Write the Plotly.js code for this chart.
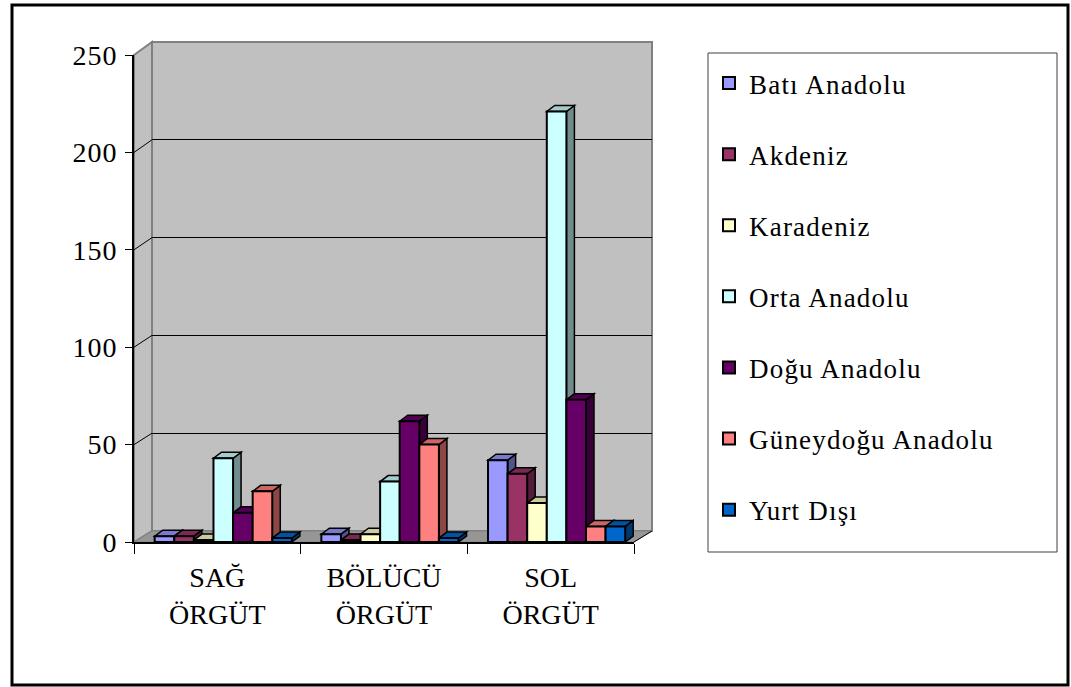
<!DOCTYPE html>
<html><head><meta charset="utf-8">
<script src="https://cdn.plot.ly/plotly-3.0.1.min.js"></script>
<style>html,body{margin:0;padding:0;background:#fff}#chart{width:1071px;height:687px}.legendtext{letter-spacing:1.2px}.y2tick text{letter-spacing:1px}</style>
</head><body><div id="chart"></div>
<script>
// ---- data ----
const categories = ['SAĞ<br>ÖRGÜT', 'BÖLÜCÜ<br>ÖRGÜT', 'SOL<br>ÖRGÜT'];
const seriesNames = ['Batı Anadolu', 'Akdeniz', 'Karadeniz', 'Orta Anadolu', 'Doğu Anadolu', 'Güneydoğu Anadolu', 'Yurt Dışı'];
const batiAnadolu = [3, 4, 42];
const akdeniz = [3, 1, 35];
const karadeniz = [1, 4, 20];
const ortaAnadolu = [43, 31, 221];
const doguAnadolu = [15, 62, 73];
const guneydoguAnadolu = [26, 50, 8];
const yurtDisi = [2, 2, 8];
const yTicks = [0, 50, 100, 150, 200, 250];
const seriesValues = [batiAnadolu, akdeniz, karadeniz, ortaAnadolu, doguAnadolu, guneydoguAnadolu, yurtDisi];
const seriesColors = ['#9999FF', '#993366', '#FFFFCC', '#CCFFFF', '#660066', '#FF8080', '#0066CC'];

// ---- geometry (pixels) ----
const W = 1071, H = 687;
const L = 134, T = 42, R = 652, B = 542;
const plotW = R - L, plotH = B - T;
const frontRight = 634, frontTop = 55;
const backLeft = 152, backBottom = 531;
const fx = px => (px - L) / plotW;
const fy = py => (B - py) / plotH;
const yMax = 250;
const frontPxPerUnitY = (B - frontTop) / yMax;
const backPxPerUnitY = (backBottom - T) / yMax;
const pxPerCat = (frontRight - L) / 3;
const barW = 19.6 / pxPerCat;
const groupStart = -0.376;
const depthX = 8 / pxPerCat;
const depthY = 6 / frontPxPerUnitY;
const FONT = 'Liberation Serif, Times New Roman, serif';

function shade(hex, f) {
  const n = parseInt(hex.slice(1), 16);
  const r = Math.round(((n >> 16) & 255) * f), g = Math.round(((n >> 8) & 255) * f), b = Math.round((n & 255) * f);
  return 'rgb(' + r + ',' + g + ',' + b + ')';
}

const traces = [{type: 'scatter', x: [], y: [], xaxis: 'x', yaxis: 'y', showlegend: false, hoverinfo: 'skip'}];
seriesValues.forEach((vals, i) => {
  traces.push({
    type: 'bar', name: seriesNames[i], x: categories, y: vals,
    xaxis: 'x2', yaxis: 'y2', offset: groupStart + i * barW, width: barW,
    marker: {color: seriesColors[i], line: {color: '#000', width: 2}},
    legendgroup: 'g' + i, hoverinfo: 'skip'
  });
});

const shapes = [];
const P = (pts) => 'M' + pts.map(p => fx(p[0]) + ',' + fy(p[1])).join(' L') + ' Z';
// outer frame
shapes.push({type: 'rect', xref: 'paper', yref: 'paper', x0: fx(12), x1: fx(1068), y0: fy(685), y1: fy(5), line: {color: '#000', width: 3}, layer: 'below'});
// back wall
shapes.push({type: 'rect', xref: 'paper', yref: 'paper', x0: fx(backLeft), x1: fx(R), y0: fy(backBottom), y1: fy(T), fillcolor: '#c0c0c0', line: {color: '#808080', width: 2}, layer: 'below'});
// left wall
shapes.push({type: 'path', xref: 'paper', yref: 'paper', path: P([[L, frontTop], [backLeft, T], [backLeft, backBottom], [L, B]]), fillcolor: '#c0c0c0', line: {color: '#808080', width: 2}, layer: 'below'});
// floor
shapes.push({type: 'path', xref: 'paper', yref: 'paper', path: P([[L, B], [backLeft, backBottom], [R, backBottom], [frontRight, B]]), fillcolor: '#969696', line: {color: '#808080', width: 1}, layer: 'below'});
// left wall grid connectors
yTicks.filter(v => v > 0 && v < yMax).forEach(v => {
  shapes.push({type: 'line', xref: 'paper', yref: 'paper', x0: fx(L), y0: fy(B - v * frontPxPerUnitY), x1: fx(backLeft), y1: fy(backBottom - v * backPxPerUnitY), line: {color: '#000', width: 1}, layer: 'below'});
});
// floor front-right edge
shapes.push({type: 'line', xref: 'paper', yref: 'paper', x0: fx(frontRight), y0: fy(B), x1: fx(R), y1: fy(backBottom), line: {color: '#000', width: 1}, layer: 'below'});
// legend box
shapes.push({type: 'rect', xref: 'paper', yref: 'paper', x0: fx(708), x1: fx(1057), y0: fy(552), y1: fy(53), line: {color: '#404040', width: 1}, layer: 'below'});

// 3D faces of bars: sides first, then tops
const sides = [], tops = [];
seriesValues.forEach((vals, i) => {
  vals.forEach((v, j) => {
    const xl = j + groupStart + i * barW, xr = xl + barW;
    sides.push({type: 'path', xref: 'x2', yref: 'y2', layer: 'below',
      path: `M${xr},${v} L${xr + depthX},${v + depthY} L${xr + depthX},${depthY} L${xr},0 Z`,
      fillcolor: shade(seriesColors[i], 0.55), line: {color: '#000', width: 1.5}});
    tops.push({type: 'path', xref: 'x2', yref: 'y2', layer: 'below',
      path: `M${xl},${v} L${xr},${v} L${xr + depthX},${v + depthY} L${xl + depthX},${v + depthY} Z`,
      fillcolor: shade(seriesColors[i], 0.8), line: {color: '#000', width: 1.5}});
  });
});
shapes.push(...sides, ...tops);

const layout = {
  width: W, height: H,
  margin: {l: L, r: W - R, t: T, b: H - B, pad: 0},
  paper_bgcolor: '#fff', plot_bgcolor: 'rgba(0,0,0,0)',
  barmode: 'overlay', showlegend: true, hovermode: false,
  font: {family: FONT, size: 28, color: '#000'},
  xaxis: {domain: [fx(backLeft), 1], range: [-0.5, 2.5], anchor: 'y', showgrid: false, zeroline: false, showticklabels: false, ticks: '', showline: false, fixedrange: true},
  yaxis: {domain: [fy(backBottom), 1], range: [0, yMax], anchor: 'x', tickmode: 'array', tickvals: yTicks.filter(v => v > 0 && v < yMax), showgrid: true, gridcolor: '#000', gridwidth: 1, zeroline: false, showticklabels: false, ticks: '', showline: false, fixedrange: true},
  xaxis2: {domain: [0, fx(frontRight)], anchor: 'y2', type: 'category', categoryorder: 'array', categoryarray: categories, range: [-0.5, 2.5], tickson: 'boundaries', ticks: 'outside', ticklen: 10, tickcolor: '#000', tickwidth: 1, ticklabelstandoff: 10, showline: true, linecolor: '#000', linewidth: 1.5, showgrid: false, zeroline: false, tickfont: {family: FONT, size: 28, color: '#000'}, fixedrange: true},
  yaxis2: {domain: [0, fy(frontTop)], anchor: 'x2', range: [0, yMax], tickmode: 'array', tickvals: yTicks, ticks: 'outside', ticklen: 7, tickcolor: '#000', tickwidth: 1, ticklabelstandoff: 2, showline: true, linecolor: '#000', linewidth: 2, showgrid: false, zeroline: false, tickfont: {family: FONT, size: 28, color: '#000'}, fixedrange: true},
  legend: {x: fx(709), y: fy(59), xanchor: 'left', yanchor: 'top', borderwidth: 0, bgcolor: 'rgba(0,0,0,0)', font: {family: FONT, size: 27, color: '#000'}, tracegroupgap: 33, traceorder: 'grouped'},
  shapes: shapes
};

Plotly.newPlot('chart', traces, layout, {displayModeBar: false, staticPlot: true});
</script></body></html>
